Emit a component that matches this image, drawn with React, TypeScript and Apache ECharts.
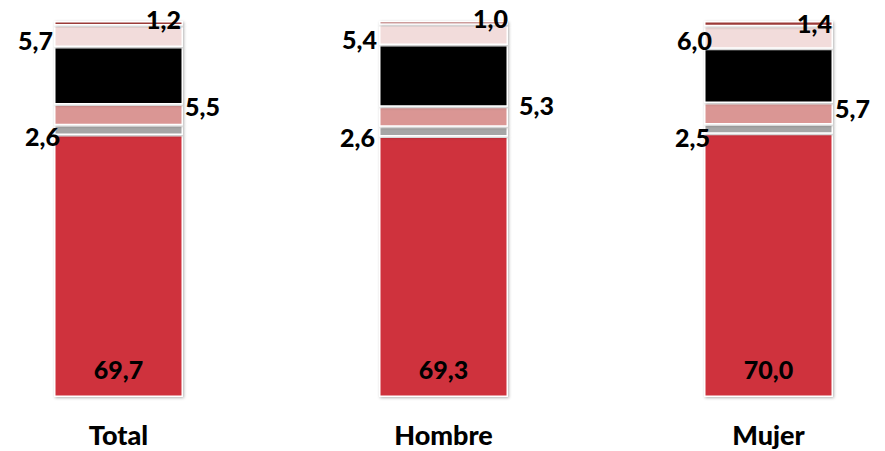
import React, { useEffect, useRef } from "react";
import * as echarts from "echarts";

const categories = ["Total", "Hombre", "Mujer"];
const seriesNames = ["s1", "s2", "s3", "s4", "s5", "s6"];
const redValues = [69.7, 69.3, 70.0];
const greyValues = [2.6, 2.6, 2.5];
const pinkValues = [5.5, 5.3, 5.7];
const blackValues = [15.3, 16.4, 14.4];
const lightPinkValues = [5.7, 5.4, 6.0];
const darkRedValues = [1.2, 1.0, 1.4];
const colors = ["#CF333D", "#A6A6A6", "#DA9694", "#000000", "#F2DCDB", "#9B3A38"];

const FONT = "Lato, 'DejaVu Sans', sans-serif";

const fmt = (v: number) => v.toFixed(1).replace(".", ",");

export default function App() {
  const ref = useRef<HTMLDivElement>(null);
  useEffect(() => {
    document.body.style.margin = "0";
    if (!ref.current) return;
    const chart = echarts.init(ref.current, undefined, { renderer: "svg" });
    const baseLabel = {
      show: true,
      color: "#000",
      fontFamily: FONT,
      fontWeight: 900,
      fontSize: 25,
      formatter: (p: any) => fmt(p.value),
    };
    const itemStyle = (c: string) => ({
      color: c,
      borderColor: "#ffffff",
      borderWidth: 1.5,
      shadowColor: "rgba(0,0,0,0.3)",
      shadowBlur: 3,
      shadowOffsetX: 1,
      shadowOffsetY: 1,
    });
    const mk = (idx: number, vals: number[], labels: any[]) => ({
      name: seriesNames[idx],
      type: "bar",
      stack: "a",
      barWidth: 129,
      itemStyle: itemStyle(colors[idx]),
      data: vals.map((v, i) => ({ value: v, label: { ...baseLabel, ...labels[i] } })),
    });
    const option: any = {
      animation: false,
      grid: { left: 118.5, right: 116.5, top: 21, bottom: 54 },
      xAxis: {
        type: "category",
        data: categories,
        boundaryGap: false,
        axisLine: { show: false },
        axisTick: { show: false },
        axisLabel: {
          color: "#000",
          fontFamily: FONT,
          fontWeight: 900,
          fontSize: 27,
          lineHeight: 28,
          margin: 23,
        },
      },
      yAxis: { type: "value", min: 0, max: 100, show: false },
      series: [
        mk(0, redValues, [
          { position: "insideBottom", distance: 16 },
          { position: "insideBottom", distance: 16 },
          { position: "insideBottom", distance: 16 },
        ]),
        mk(1, greyValues, [
          { position: "left", distance: 0, offset: [6, 6] },
          { position: "left", distance: 0, offset: [-4, 5] },
          { position: "left", distance: 0, offset: [6, 8] },
        ]),
        mk(2, pinkValues, [
          { position: "right", distance: 0, offset: [2, -9] },
          { position: "right", distance: 0, offset: [11, -12] },
          { position: "right", distance: 0, offset: [2, -6] },
        ]),
        {
          name: seriesNames[3],
          type: "bar",
          stack: "a",
          barWidth: 129,
          itemStyle: itemStyle(colors[3]),
          data: blackValues,
        },
        mk(4, lightPinkValues, [
          { position: "left", distance: 0, offset: [-1, 4] },
          { position: "left", distance: 0, offset: [-2, 4] },
          { position: "left", distance: 0, offset: [8, 2] },
        ]),
        mk(5, darkRedValues, [
          { position: "insideRight", distance: 2, offset: [0, -4] },
          { position: "insideRight", distance: 0, offset: [0, -5] },
          { position: "insideRight", distance: 1, offset: [0, -1] },
        ]),
      ],
    };
    chart.setOption(option);
    return () => chart.dispose();
  }, []);
  return <div ref={ref} style={{ width: 885, height: 451 }} />;
}
